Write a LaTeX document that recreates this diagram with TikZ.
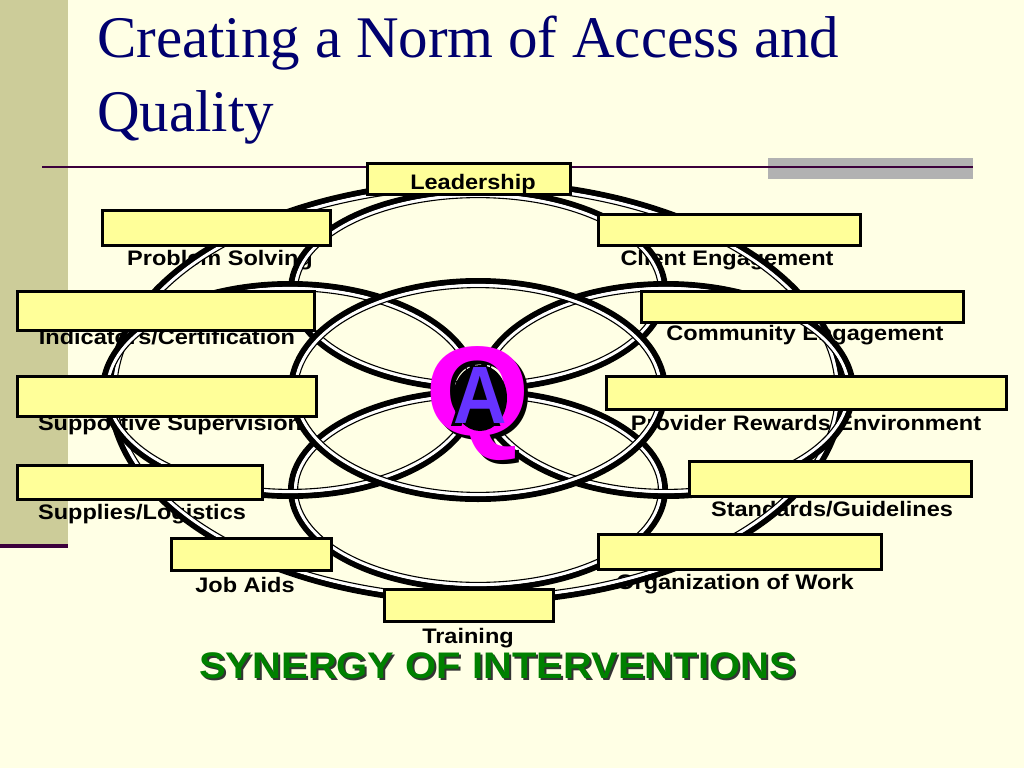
\documentclass[tikz,border=0pt]{standalone}
\usepackage{fontspec}
\setmainfont{Liberation Serif}
\newfontfamily\arialf{Liberation Sans}
\definecolor{bgc}{RGB}{255,255,229}
\definecolor{sidec}{RGB}{204,204,153}
\definecolor{purp}{RGB}{60,0,60}
\definecolor{grayb}{RGB}{178,178,178}
\definecolor{navy}{RGB}{0,0,110}
\definecolor{boxc}{RGB}{255,255,153}
\definecolor{qmag}{RGB}{255,0,255}
\definecolor{ablue}{RGB}{102,51,255}
\definecolor{syng}{RGB}{0,128,0}
\newcommand{\tubeell}[4]{%
  \draw[line width=6pt,black] (#1,#2) ellipse [x radius={#3+3}, y radius={#4+3}];
  \draw[line width=3.2pt,white] (#1,#2) ellipse [x radius={#3-1.5}, y radius={#4-1.5}];
  \draw[line width=1.1pt,black] (#1,#2) ellipse [x radius={#3-3.6}, y radius={#4-3.6}];
}
\tikzset{
  titlef/.style={font=\fontsize{59}{59}\selectfont, text=navy, inner sep=0pt, anchor=base west},
  boxn/.style={draw=black, line width=3pt, fill=boxc, inner sep=0pt},
  lab/.style={font=\arialf\bfseries\fontsize{21}{21}\selectfont, xscale=1.12, anchor=base, inner sep=0pt},
  synf/.style={font=\arialf\bfseries\fontsize{37}{37}\selectfont, xscale=1.08, anchor=base, inner sep=0pt},
  bigq/.style={font=\arialf\bfseries\fontsize{118}{118}\selectfont, inner sep=0pt, xscale=1.14, yscale=1.08},
  biga/.style={font=\arialf\bfseries\fontsize{74}{74}\selectfont, inner sep=0pt, yscale=1.1},
}
\begin{document}
\begin{tikzpicture}[x=1pt,y=-1pt]
\useasboundingbox (0,0) rectangle (1024,768);
\fill[bgc] (0,0) rectangle (1024,768);
\fill[sidec] (0,0) rectangle (68,545);
\draw[purp, line width=4pt] (0,546) -- (68,546);
\fill[grayb] (768,158) rectangle (973,179);
\draw[purp, line width=1.8pt] (42,167) -- (973,167);
% title
\node[titlef] (t1) at (97,57) {Creating a Norm of Access and};
\node[titlef] (t2) at (97,131) {Quality};
% labels (under the rings)
\node[lab] (lps) at (220,265) {Problem Solving};
\node[lab] (lce) at (727,265) {Client Engagement};
\node[lab] (lic) at (167,344) {Indicators/Certification};
\node[lab] (lcm) at (805,340) {Community Engagement};
\node[lab] (lss) at (170,430) {Supportive Supervision};
\node[lab] (lpr) at (806,430) {Provider Rewards/Environment};
\node[lab] (lsl) at (142,519) {Supplies/Logistics};
\node[lab] (lsg) at (832,516) {Standards/Guidelines};
\node[lab] (lja) at (245,592) {Job Aids};
\node[lab] (low) at (735,589) {Organization of Work};
\node[lab] (ltr) at (468,643) {Training};
% rings
\tubeell{476}{392}{363}{207}
\tubeell{478}{290}{184}{96}
\tubeell{478}{490}{184}{96}
\tubeell{290}{390}{184}{103}
\tubeell{666}{390}{184}{103}
\tubeell{478}{390}{184}{106}
% boxes
\node[boxn, minimum width=203pt, minimum height=31pt] (blead) at (469,179) {};
\node[boxn, minimum width=228pt, minimum height=35pt] (bps) at (216.5,228) {};
\node[boxn, minimum width=262pt, minimum height=31pt] (bce) at (729.5,230) {};
\node[boxn, minimum width=297pt, minimum height=39pt] (bic) at (166,311) {};
\node[boxn, minimum width=322pt, minimum height=31pt] (bcm) at (802.5,307) {};
\node[boxn, minimum width=299pt, minimum height=40pt] (bss) at (167,396.5) {};
\node[boxn, minimum width=400pt, minimum height=33pt] (bpr) at (806.5,393) {};
\node[boxn, minimum width=245pt, minimum height=34pt] (bsl) at (140,482.5) {};
\node[boxn, minimum width=282pt, minimum height=35pt] (bsg) at (830.5,479) {};
\node[boxn, minimum width=160pt, minimum height=32pt] (bja) at (251.5,554.5) {};
\node[boxn, minimum width=283pt, minimum height=35pt] (bow) at (740,552) {};
\node[boxn, minimum width=169pt, minimum height=32pt] (btr) at (469,605.5) {};
\node[lab] (llead) at (473,189) {Leadership};
% Q and A
\node[bigq, text=black] (qs) at (482,408) {Q};
\node[bigq, text=qmag] (q) at (478,404) {Q};
\fill[black] (480,398) ellipse [x radius=27, y radius=33];
\node[biga, text=black] (as) at (476,398) {A};
\node[biga, text=ablue] (a) at (480,395) {A};
% bottom caption
\node[synf, text=black!80] (syns) at (499.5,680.5) {SYNERGY OF INTERVENTIONS};
\node[synf, text=syng] (syn) at (497.5,678) {SYNERGY OF INTERVENTIONS};
\end{tikzpicture}
\end{document}
